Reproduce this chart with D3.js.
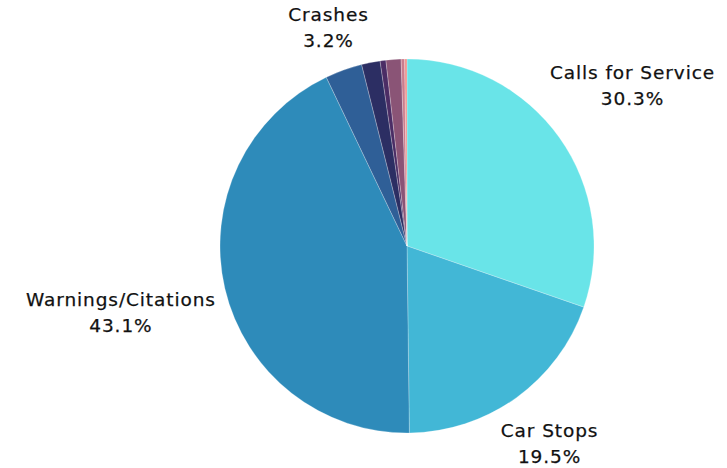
<!DOCTYPE html>
<html><head><meta charset="utf-8">
<script src="https://cdn.jsdelivr.net/npm/d3@7"></script>
<style>html,body{margin:0;padding:0;background:#fff;}svg{display:block;font-family:"DejaVu Sans",sans-serif;}</style>
</head><body>
<svg id="c" width="727" height="468"></svg>
<script>
const categories = ["Calls for Service","Car Stops","Warnings/Citations","Crashes","Other A","Other B","Other C","Other D","Other E"];
const values = [30.3, 19.5, 43.1, 3.2, 1.6, 0.5, 1.3, 0.3, 0.2];
const labelled = [true, true, true, true, false, false, false, false, false];
const colors = ["#69e4e8","#42b7d6","#2e8bba","#2f5f97","#2c2e63","#4b2d65","#8a5476","#c97d8d","#f0948f"];

const svg = d3.select("#c");
const cx = 407, cy = 246, r = 187;
const g = svg.append("g").attr("transform", `translate(${cx},${cy})`);
const pie = d3.pie().sort(null).value(d => d)(values);
const arc = d3.arc().innerRadius(0).outerRadius(r);
g.selectAll("path").data(pie).join("path")
  .attr("d", arc).attr("fill", (d,i) => colors[i])
  .attr("stroke", "#fff").attr("stroke-width", 0.4).attr("stroke-opacity", 0.6);

const fs = 18.5, lh = 26;
pie.forEach((d,i) => {
  if (!labelled[i]) return;
  const a = (d.startAngle + d.endAngle) / 2;
  const t = g.append("text").attr("text-anchor","middle").attr("font-size", fs)
    .attr("fill","#111").attr("letter-spacing", 0.9).attr("stroke","#111").attr("stroke-width",0.25);
  t.append("tspan").attr("x",0).attr("dy",0).text(categories[i]);
  t.append("tspan").attr("x",0).attr("dy",lh).text(values[i].toFixed(1) + "%");
  const bb = t.node().getBBox();
  const w = bb.width/2, h = bb.height/2;
  const off = r + 9 + Math.abs(Math.sin(a))*w + Math.abs(Math.cos(a))*h;
  const x = Math.sin(a)*off, y = -Math.cos(a)*off;
  const dy = y - (bb.y + bb.height/2);
  t.attr("transform", `translate(${x},${dy})`);
});
</script>
</body></html>
